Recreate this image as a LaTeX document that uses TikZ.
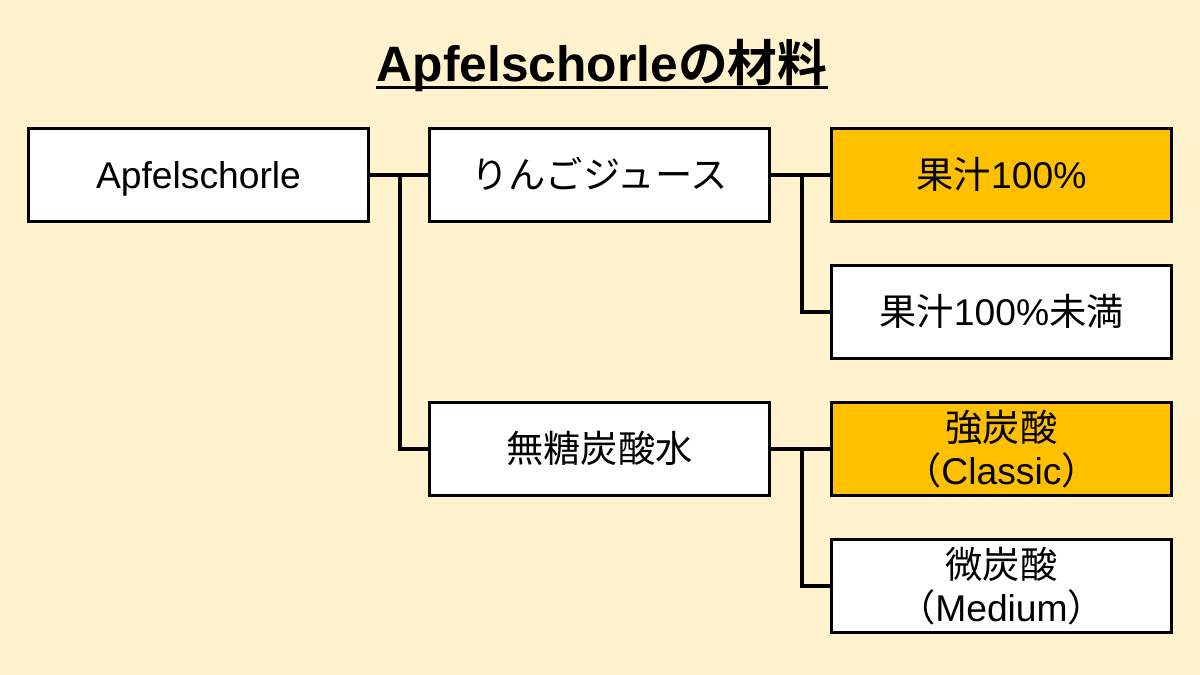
\documentclass[tikz,border=0pt]{standalone}
\usepackage{fontspec}
\setmainfont{Liberation Sans}
\newfontfamily\jp{Noto Sans CJK JP}[BoldFont=Noto Sans CJK JP Bold]
\usepackage{xcolor}
\definecolor{cream}{HTML}{FFF2CC}
\definecolor{amber}{HTML}{FFC000}
\tikzset{
  pair/.style={draw=black, line width=1.7pt, fill=white, minimum width=6.8cm,
    minimum height=1.86cm, inner sep=0pt, align=center,
    font=\fontsize{21.2}{24.5}\selectfont},
  box/.style={pair, text height=0.54cm, text depth=0pt},
  hot/.style={fill=amber},
  wire/.style={line width=1.8pt}
}
\begin{document}
\begin{tikzpicture}[x=0.02cm, y=-0.02cm]
            \fill[cream] (0,0) rectangle (1200,675);
            \useasboundingbox (0,0) rectangle (1200,675);

            \node[anchor=base, inner sep=0pt, font=\fontsize{28.3}{32}\selectfont\bfseries] (T) at (602,82) {Apfelschorle{\jp の材料}};
            \draw[line width=1.5pt] ([yshift=-0.105cm]T.base west) -- ([yshift=-0.105cm]T.base east);

            \node[box] (A) at (198.5,175) {Apfelschorle};
            \node[box] (B) at (599.5,175) {\jp りんごジュース};
            \node[box] (C) at (599.5,449) {\jp 無糖炭酸水};
            \node[box,hot] (D) at (1001.5,175) {{\jp 果汁}100\%};
            \node[box] (E) at (1001.5,312) {{\jp 果汁}100\%{\jp 未満}};
            \node[pair,hot] (F) at (1001.5,449) {\jp 強炭酸\\{\jp （}Classic{\jp ）}};
            \node[pair] (G) at (1001.5,586) {\jp 微炭酸\\{\jp （}Medium{\jp ）}};

            \coordinate (j1) at (400,175);
            \coordinate (j2) at (802,175);
            \coordinate (j3) at (802,449);

            \draw[wire] (A.east) -- (B.west);
            \draw[wire] (j1) |- (C.west);
            \draw[wire] (B.east) -- (D.west);
            \draw[wire] (j2) |- (E.west);
            \draw[wire] (C.east) -- (F.west);
            \draw[wire] (j3) |- (G.west);
        \end{tikzpicture}
\end{document}
